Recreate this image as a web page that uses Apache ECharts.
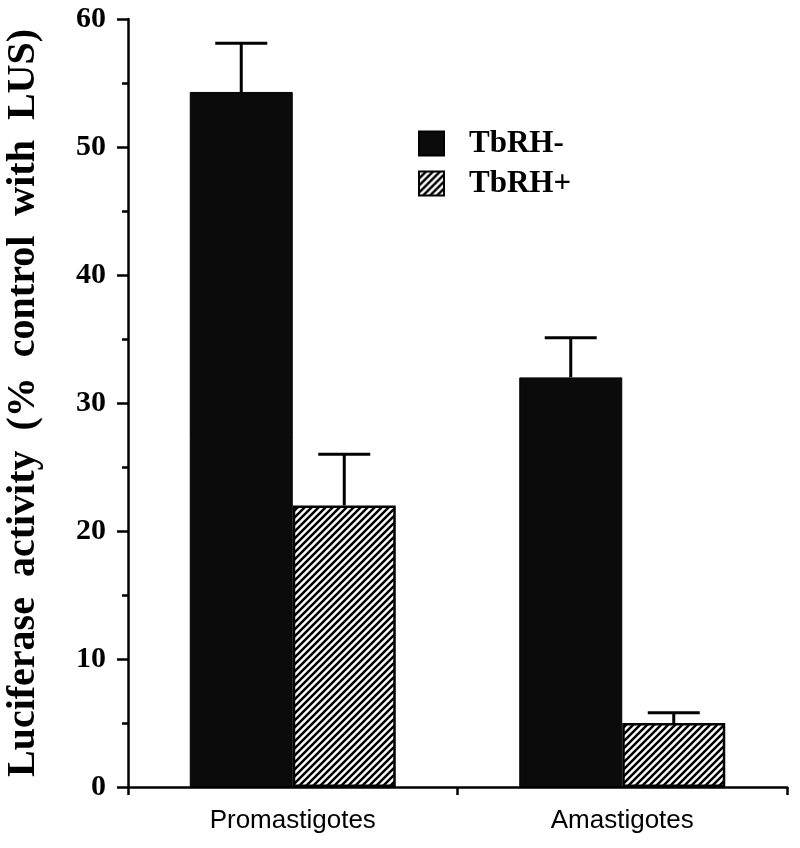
<!DOCTYPE html>
<html>
<head>
<meta charset="utf-8">
<script src="https://cdn.jsdelivr.net/npm/echarts@6/dist/echarts.min.js"></script>
<style>
  html, body { margin: 0; padding: 0; background: #fff; }
  #chart { width: 800px; height: 848px; }
</style>
</head>
<body>
<div id="chart"></div>
<script>
  // data
  var categories = ['Promastigotes', 'Amastigotes'];
  var tbrhMinus = [54.3, 32.0];
  var tbrhMinusTop = [58.1, 35.1];   // upper end of error bar
  var tbrhPlus = [22.0, 5.0];
  var tbrhPlusTop = [26.0, 5.8];
  var yTicks = [0, 10, 20, 30, 40, 50, 60];

  var BAR_W = 103;
  var SERIF = '"Liberation Serif", "DejaVu Serif", serif';
  var SANS = '"Liberation Sans", Arial, sans-serif';

  // diagonal hatch pattern for TbRH+
  function makeHatch() {
    var c = document.createElement('canvas');
    var s = 7;
    c.width = s; c.height = s;
    var ctx = c.getContext('2d');
    ctx.fillStyle = '#fff';
    ctx.fillRect(0, 0, s, s);
    ctx.strokeStyle = '#000';
    ctx.lineWidth = 2.5;
    ctx.beginPath();
    ctx.moveTo(-1, s + 1); ctx.lineTo(s + 1, -1);
    ctx.moveTo(-1 - s, s + 1); ctx.lineTo(1, -1);
    ctx.moveTo(s - 1, s + 1); ctx.lineTo(2 * s + 1, -1);
    ctx.stroke();
    return c;
  }
  var hatch = { image: makeHatch(), repeat: 'repeat' };

  // error bars (upper only) drawn with a custom series
  function errorSeries(name, vals, tops, side) {
    var d = [];
    for (var i = 0; i < vals.length; i++) d.push([i, vals[i], tops[i]]);
    return {
      name: name,
      type: 'custom',
      z: 5,
      data: d,
      renderItem: function (params, api) {
        var base = api.coord([api.value(0), api.value(1)]);
        var top = api.coord([api.value(0), api.value(2)]);
        var x = base[0] + side * BAR_W / 2;
        var half = 26;
        var st = { stroke: '#000', lineWidth: 3 };
        return {
          type: 'group',
          children: [
            { type: 'line', shape: { x1: x, y1: base[1], x2: x, y2: top[1] }, style: st },
            { type: 'line', shape: { x1: x - half, y1: top[1], x2: x + half, y2: top[1] }, style: st }
          ]
        };
      },
      tooltip: { show: false }
    };
  }

  var myChart = echarts.init(document.getElementById('chart'));
  var option = {
    animation: false,
    backgroundColor: '#fff',
    grid: { left: 128, right: 13, top: 19, bottom: 61, outerBoundsMode: 'none', containLabel: false },
    legend: {
      data: ['TbRH-', 'TbRH+'],
      left: 413,
      top: 123,
      orient: 'vertical',
      itemWidth: 25,
      itemHeight: 24,
      itemGap: 9,
      icon: 'rect',
      textStyle: {
        fontFamily: SERIF, fontWeight: 'bold', fontSize: 31, color: '#000',
        lineHeight: 24, padding: [0, 0, 0, 20]
      }
    },
    xAxis: {
      type: 'category',
      data: categories,
      axisLine: { lineStyle: { color: '#000', width: 2.5 } },
      axisTick: { show: true, length: 8, lineStyle: { color: '#000', width: 2.5 } },
      axisLabel: { fontFamily: SANS, fontSize: 26, color: '#000', margin: 21 }
    },
    yAxis: {
      type: 'value',
      min: 0,
      max: 60,
      interval: 10,
      name: 'Luciferase  activity  (%  control  with  LUS)',
      nameLocation: 'middle',
      nameGap: 84,
      nameTextStyle: { fontFamily: SERIF, fontWeight: 'bold', fontSize: 40, color: '#000' },
      axisLine: { show: true, lineStyle: { color: '#000', width: 2.5 } },
      axisTick: { show: true, length: 11, lineStyle: { color: '#000', width: 2.5 } },
      minorTick: { show: true, splitNumber: 2, length: 6, lineStyle: { color: '#000', width: 2.5 } },
      splitLine: { show: false },
      axisLabel: {
        fontFamily: SERIF, fontWeight: 'bold', fontSize: 30, color: '#000', margin: 22,
        formatter: function (v) { return yTicks.indexOf(v) >= 0 ? String(v) : ''; }
      }
    },
    series: [
      {
        name: 'TbRH-',
        type: 'bar',
        data: tbrhMinus,
        barWidth: BAR_W,
        barGap: '0%',
        itemStyle: { color: '#0b0b0b', borderColor: '#000', borderWidth: 1 }
      },
      {
        name: 'TbRH+',
        type: 'bar',
        data: tbrhPlus,
        barWidth: BAR_W,
        barGap: '0%',
        itemStyle: { color: hatch, borderColor: '#000', borderWidth: 2.5 }
      },
      errorSeries('TbRH- err', tbrhMinus, tbrhMinusTop, -1),
      errorSeries('TbRH+ err', tbrhPlus, tbrhPlusTop, 1)
    ]
  };
  myChart.setOption(option);
  window.onresize = function () {
    myChart.resize();
  };
</script>
</body>
</html>
